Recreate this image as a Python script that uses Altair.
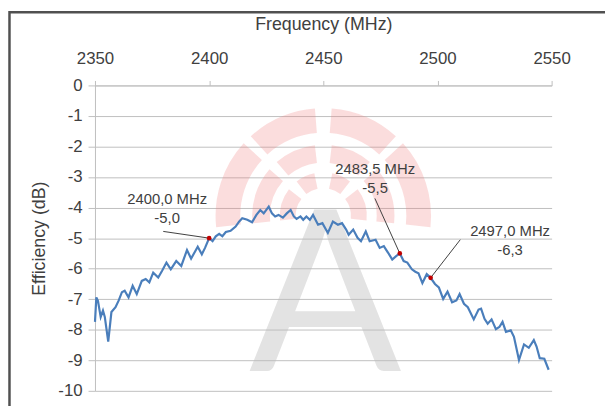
import math
import altair as alt
import pandas as pd

# ---- data ----
freq = [2350.0, 2350.6, 2351.3, 2352.5, 2353.5, 2354.3, 2355.8, 2357.2, 2359.0, 2360.4,
        2361.8, 2363.0, 2364.7, 2366.5, 2368.3, 2370.5, 2372.2, 2373.8, 2375.5, 2377.7,
        2379.4, 2381.3, 2383.2, 2385.6, 2387.8, 2390.3, 2392.1, 2395.0, 2396.8, 2398.2,
        2400.0, 2401.5, 2402.9, 2404.4, 2405.8, 2407.3, 2409.4, 2411.6, 2413.1, 2414.5,
        2416.7, 2418.8, 2420.7, 2422.4, 2423.9, 2426.1, 2427.5, 2428.9, 2430.4, 2432.3,
        2434.0, 2435.7, 2437.1, 2438.3, 2440.0, 2441.2, 2442.6, 2444.1, 2445.5, 2447.7,
        2449.6, 2452.0, 2454.2, 2456.4, 2458.2, 2460.0, 2461.1, 2463.1, 2465.0, 2466.5,
        2468.6, 2470.3, 2472.9, 2474.7, 2476.5, 2478.4, 2480.2, 2481.9, 2483.5, 2485.2,
        2486.8, 2488.8, 2490.3, 2491.7, 2493.4, 2495.3, 2497.0, 2498.9, 2500.6, 2502.5,
        2504.4, 2506.4, 2508.3, 2509.7, 2511.6, 2513.3, 2515.9, 2518.0, 2519.1, 2520.6,
        2522.0, 2523.7, 2525.6, 2527.1, 2528.5, 2530.0, 2532.1, 2533.5, 2535.7, 2537.9,
        2540.0, 2542.2, 2543.4, 2544.8, 2546.8, 2548.7]
eff = [-7.74, -6.94, -7.05, -7.58, -7.37, -7.58, -8.39, -7.42, -7.26, -7.04,
       -6.77, -6.72, -6.94, -6.56, -6.83, -6.40, -6.34, -6.45, -6.13, -6.29,
       -6.07, -5.80, -6.02, -5.75, -5.91, -5.39, -5.67, -5.28, -5.53, -5.32,
       -5.00, -5.10, -4.94, -4.86, -4.94, -4.80, -4.76, -4.62, -4.46, -4.35,
       -4.40, -4.48, -4.24, -4.08, -4.19, -3.97, -4.19, -4.29, -4.24, -4.33,
       -4.19, -4.08, -4.29, -4.37, -4.29, -4.40, -4.29, -4.40, -4.24, -4.56,
       -4.51, -4.83, -4.46, -4.56, -4.51, -4.72, -4.89, -4.72, -4.99, -5.10,
       -4.78, -5.10, -5.05, -5.32, -5.26, -5.48, -5.70, -5.59, -5.50, -5.75,
       -5.80, -6.02, -6.10, -6.15, -6.47, -6.18, -6.30, -6.50, -6.61, -6.99,
       -6.75, -7.10, -7.04, -6.83, -7.15, -7.26, -7.66, -7.34, -7.31, -7.64,
       -7.80, -7.66, -7.98, -7.91, -7.74, -8.07, -8.02, -8.23, -8.99, -8.48,
       -8.59, -8.34, -8.55, -8.93, -8.95, -9.31]

x_ticks = [2350, 2400, 2450, 2500, 2550]
y_ticks = [0, -1, -2, -3, -4, -5, -6, -7, -8, -9, -10]

# annotated points
mk_freq = [2400.0, 2483.5, 2497.0]
mk_eff = [-5.0, -5.5, -6.3]
mk_line1 = ["2400,0 MHz", "2483,5 MHz", "2497,0 MHz"]
mk_line2 = ["-5,0", "-5,5", "-6,3"]
# label anchor positions (data units) and leader-line starts
lab_freq = [2381.6, 2472.7, 2531.8]
lab_eff1 = [-3.72, -2.73, -4.76]
lab_eff2 = [-4.34, -3.37, -5.40]
lead_freq = [2379.9, 2472.6, 2510.0]
lead_eff = [-4.78, -3.70, -5.05]

FONT = "Liberation Sans"
TXT = "#404040"
GRID = "#bfbfbf"

df = pd.DataFrame({"f": freq, "e": eff})
mk = pd.DataFrame({"f": mk_freq, "e": mk_eff, "t1": mk_line1, "t2": mk_line2,
                   "lf": lab_freq, "le1": lab_eff1, "le2": lab_eff2,
                   "sf": lead_freq, "se": lead_eff})

xscale = alt.Scale(domain=[2350, 2550], nice=False, zero=False)
yscale = alt.Scale(domain=[-10, 0], nice=False, zero=False)

axis_y = alt.Axis(values=y_ticks, grid=True, gridColor=GRID,
                  title="Efficiency (dB)", tickSize=7, tickColor=GRID,
                  domainColor=GRID, labelFontSize=17, titleFontSize=18,
                  labelPadding=6, titlePadding=10, labelFont=FONT,
                  titleFont=FONT, labelColor=TXT, titleColor=TXT,
                  titleFontWeight="normal", labelExpr="toString(datum.value)")
axis_x = alt.Axis(orient="top", values=x_ticks, grid=False,
                  title="Frequency (MHz)", tickSize=5, tickColor=GRID,
                  domainColor=GRID, labelFontSize=17, titleFontSize=18,
                  labelPadding=13, titlePadding=17, labelFont=FONT,
                  titleFont=FONT, labelColor=TXT, titleColor=TXT,
                  titleFontWeight="normal", labelFlush=False,
                  labelExpr="toString(datum.value)")


def X(field):
    return alt.X(field, scale=xscale, axis=axis_x)


def Y(field):
    return alt.Y(field, scale=yscale, axis=axis_y)


# ---- watermark (decoration) ----
bands = [(84, 109), (54, 72), (28, 44)]
segs = []
for r_in, r_out in bands:
    rm = (r_in + r_out) / 2
    gv = 7.5 / rm      # half gap at vertical
    gd = 4.5 / rm      # half gap at diagonals
    q = math.radians(45)
    lim = math.radians(96)
    for a, b in [(-lim, -q - gd), (-q + gd, -gv), (gv, q - gd), (q + gd, lim)]:
        segs.append({"t1": a, "t2": b, "r1": r_out, "r2": r_in})
arcs = alt.Chart(pd.DataFrame(segs)).mark_arc(color="#f08080", opacity=0.27).encode(
    x=alt.value(231), y=alt.value(132),
    theta=alt.Theta("t1:Q", scale=None), theta2="t2:Q",
    radius=alt.Radius("r1:Q", scale=None), radius2="r2:Q",
)
letter = alt.Chart(pd.DataFrame({"t": ["A"]})).mark_text(
    font="Lato", fontSize=228, fontWeight=400, color="#bdbdbd", opacity=0.42,
    align="center", baseline="alphabetic"
).encode(x=alt.value(233), y=alt.value(289), text="t:N")

# ---- main chart ----
line = alt.Chart(df).mark_line(color="#4a7ebb", strokeWidth=2.2).encode(
    x=X("f:Q"), y=Y("e:Q"))
leaders = alt.Chart(mk).mark_rule(color="#404040", strokeWidth=1).encode(
    x=X("sf:Q"), y=Y("se:Q"), x2="f:Q", y2="e:Q")
dots = alt.Chart(mk).mark_circle(color="#c00000", size=22, opacity=1).encode(
    x=X("f:Q"), y=Y("e:Q"))
t1 = alt.Chart(mk).mark_text(font=FONT, fontSize=15, color=TXT).encode(
    x=X("lf:Q"), y=Y("le1:Q"), text="t1:N")
t2 = alt.Chart(mk).mark_text(font=FONT, fontSize=15, color=TXT).encode(
    x=X("lf:Q"), y=Y("le2:Q"), text="t2:N")

# outer frame of the chart (its right and bottom sides fall outside the page)
frame = alt.Chart(pd.DataFrame({"a": [0]})).mark_rect(
    fill="transparent", stroke="#505050", strokeWidth=2.5, filled=False
).encode(x=alt.value(-86.5), x2=alt.value(560), y=alt.value(-74), y2=alt.value(360))

chart = alt.layer(arcs, letter, line, leaders, dots, t1, t2, frame).properties(
    width=462, height=309,
    background="white",
    autosize=alt.AutoSizeParams(type="none"),
    padding={"left": 88, "top": 76, "right": 54, "bottom": 13},
).configure_view(stroke=None)

chart.save("out.html", embed_options={"renderer": "svg", "actions": False})
